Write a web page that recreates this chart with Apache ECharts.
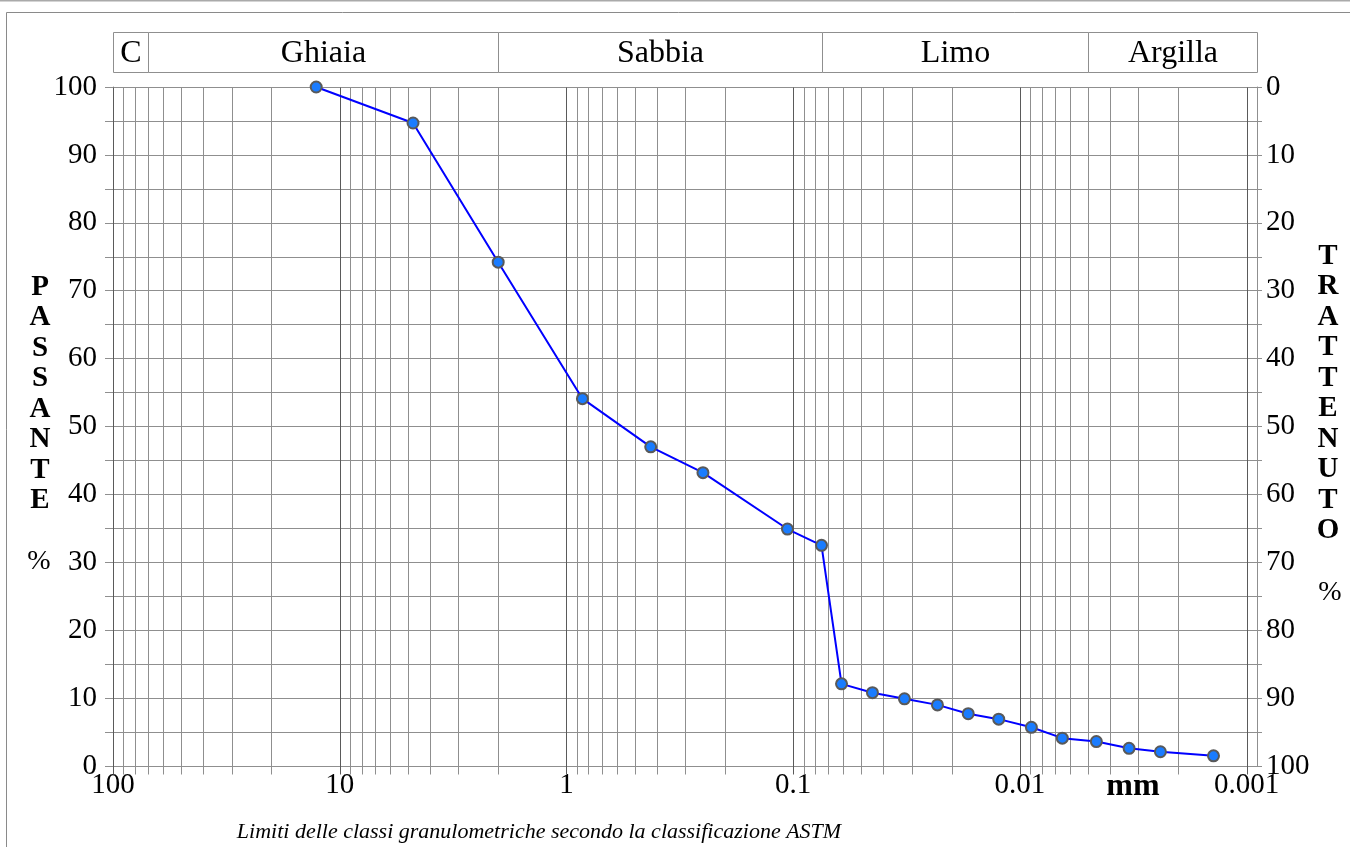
<!DOCTYPE html>
<html><head><meta charset="utf-8">
<script src="https://cdn.jsdelivr.net/npm/echarts@6/dist/echarts.min.js"></script>
<style>html,body{margin:0;padding:0;background:#fff}#c{width:1350px;height:847px}</style>
</head><body><div id="c"></div>
<script>
// ---- data ----
const diameters = [12.7, 4.75, 2.0, 0.85, 0.425, 0.25, 0.106, 0.075, 0.0612, 0.0447, 0.0323, 0.0231, 0.0169, 0.0124, 0.0089, 0.0065, 0.0046, 0.0033, 0.0024, 0.0014];
const passing = [100, 94.7, 74.2, 54.1, 47.0, 43.2, 34.9, 32.5, 12.1, 10.8, 9.9, 9.0, 7.7, 6.9, 5.7, 4.1, 3.6, 2.6, 2.1, 1.5];
const classNames = ['C', 'Ghiaia', 'Sabbia', 'Limo', 'Argilla'];
const classBounds = [100, 70, 2, 0.075, 0.005, 0.0009];
const xTickLabels = { '2': '100', '1': '10', '0': '1', '-1': '0.1', '-2': '0.01', '-3': '0.001' };
const xMin = 0.0009, xMax = 100;
const gridDecades = [10, 1, 0.1, 0.01, 0.001];
const gridMultipliers = [1, 2, 3, 4, 5, 6, 7, 8, 9];

const FONT = 'Liberation Serif';
const GRID_MAJOR = '#5a5a5a', GRID_MINOR = '#8f8f8f';

const gridLines = [[100, 0, 1]];
gridDecades.forEach(d => gridMultipliers.forEach(k => gridLines.push([k * d, 0, k === 1 ? 1 : 0])));

const classData = classNames.map((n, i) => [classBounds[i], classBounds[i + 1]]);
const points = diameters.map((d, i) => [d, passing[i]]);

function crisp(v) { return Math.round(v) + 0.5; }

const chart = echarts.init(document.getElementById('c'), null, { renderer: 'canvas' });
chart.setOption({
  animation: false,
  backgroundColor: '#fff',
  grid: { left: 113, right: 93, top: 87, bottom: 81 },
  xAxis: {
    type: 'log', logBase: 10, min: xMin, max: xMax, inverse: true,
    axisLine: { show: false }, axisTick: { show: false }, splitLine: { show: false },
    axisLabel: {
      margin: 5, fontFamily: FONT, fontSize: 29, color: '#000', showMinLabel: false,
      formatter: v => {
        const l = Math.log10(v), r = Math.round(l);
        return Math.abs(l - r) < 0.01 ? (xTickLabels[String(r)] || '') : '';
      }
    }
  },
  yAxis: [{
    type: 'value', min: 0, max: 100, interval: 5, position: 'left',
    axisLine: { show: true, lineStyle: { color: GRID_MINOR } },
    axisTick: { show: true, length: 8, lineStyle: { color: GRID_MINOR } },
    axisLabel: { margin: 16, fontFamily: FONT, fontSize: 29, color: '#000', formatter: v => (v % 10 === 0 ? String(v) : '') },
    splitLine: { show: true, lineStyle: { color: GRID_MINOR, width: 1 } }
  }, {
    type: 'value', min: 0, max: 100, interval: 5, position: 'right', inverse: true,
    axisLine: { show: true, lineStyle: { color: GRID_MINOR } },
    axisTick: { show: true, length: 5, lineStyle: { color: GRID_MINOR } },
    axisLabel: { margin: 9, fontFamily: FONT, fontSize: 29, color: '#000', formatter: v => (v % 10 === 0 ? String(v) : '') },
    splitLine: { show: false }
  }],
  series: [{
    type: 'custom', silent: true, clip: false, z: 1,
    data: gridLines,
    renderItem: (params, api) => {
      const v = api.value(0);
      const top = api.coord([v, 100]);
      const bot = api.coord([v, 0]);
      const x = crisp(top[0]);
      return {
        type: 'line',
        shape: { x1: x, y1: crisp(top[1]), x2: x, y2: crisp(bot[1]) + 8 },
        style: { stroke: api.value(2) ? GRID_MAJOR : GRID_MINOR, lineWidth: 1 }
      };
    }
  }, {
    type: 'custom', silent: true, clip: false, z: 1,
    data: classData,
    renderItem: (params, api) => {
      const a = api.coord([api.value(0), 100]);
      const b = api.coord([api.value(1), 100]);
      const x1 = crisp(Math.min(a[0], b[0])), x2 = crisp(Math.max(a[0], b[0]));
      const y1 = crisp(a[1] - 55), y2 = crisp(a[1] - 15);
      return {
        type: 'group',
        children: [{
          type: 'rect',
          shape: { x: x1, y: y1, width: x2 - x1, height: y2 - y1 },
          style: { fill: '#fff', stroke: GRID_MINOR, lineWidth: 1 }
        }, {
          type: 'text',
          style: {
            text: classNames[params.dataIndex], x: (x1 + x2) / 2, y: (y1 + y2) / 2 + 1,
            align: 'center', verticalAlign: 'middle',
            font: '32px "' + FONT + '"', fill: '#000'
          }
        }]
      };
    }
  }, {
    type: 'line', z: 5, clip: false,
    data: points,
    symbol: 'circle', symbolSize: 11,
    lineStyle: { color: '#0000ff', width: 2 },
    itemStyle: { color: '#1a7cff', borderColor: '#595959', borderWidth: 2 }
  }],
  graphic: [
    { type: 'line', shape: { x1: 0, y1: 0.5, x2: 1350, y2: 0.5 }, style: { stroke: '#aaa', lineWidth: 2 } },
    { type: 'line', shape: { x1: 6.5, y1: 12.5, x2: 1350, y2: 12.5 }, style: { stroke: '#8a8a8a', lineWidth: 1 } },
    { type: 'line', shape: { x1: 6.5, y1: 12.5, x2: 6.5, y2: 847 }, style: { stroke: '#8a8a8a', lineWidth: 1 } },
    { type: 'text', x: 40, y: 272, style: { text: 'P\nA\nS\nS\nA\nN\nT\nE', font: 'bold 29px "' + FONT + '"', lineHeight: 30.5, align: 'center', fill: '#000' } },
    { type: 'text', x: 39, y: 562, style: { text: '%', font: '28px "' + FONT + '"', align: 'center', verticalAlign: 'middle', fill: '#000' } },
    { type: 'text', x: 1328, y: 241, style: { text: 'T\nR\nA\nT\nT\nE\nN\nU\nT\nO', font: 'bold 29px "' + FONT + '"', lineHeight: 30.5, align: 'center', fill: '#000' } },
    { type: 'text', x: 1330, y: 593, style: { text: '%', font: '28px "' + FONT + '"', align: 'center', verticalAlign: 'middle', fill: '#000' } },
    { type: 'text', x: 1133, y: 787, style: { text: 'mm', font: 'bold 32px "' + FONT + '"', align: 'center', verticalAlign: 'middle', fill: '#000' } },
    { type: 'text', x: 539, y: 832, style: { text: 'Limiti delle classi granulometriche secondo la classificazione ASTM', font: 'italic 22px "' + FONT + '"', align: 'center', verticalAlign: 'middle', fill: '#000' } }
  ]
});
</script>
</body></html>
